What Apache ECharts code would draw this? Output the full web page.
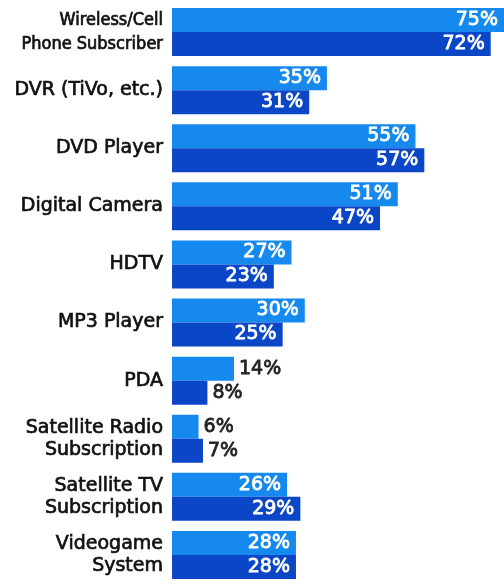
<!DOCTYPE html>
<html>
<head>
<meta charset="utf-8">
<script src="https://cdn.jsdelivr.net/npm/echarts@6/dist/echarts.min.js"></script>
<style>html,body{margin:0;padding:0;background:#fff}#c{width:504px;height:584px}</style>
</head>
<body>
<div id="c"></div>
<script>
var categories = ["Wireless/Cell\nPhone Subscriber","DVR (TiVo, etc.)","DVD Player","Digital Camera","HDTV","MP3 Player","PDA","Satellite Radio\nSubscription","Satellite TV\nSubscription","Videogame\nSystem"];
var seriesA = [75,35,55,51,27,30,14,6,26,28];
var seriesB = [72,31,57,47,23,25,8,7,29,28];

var FONT = "DejaVu Sans";
function mk(vals){
  return vals.map(function(v){
    var small = v < 15;
    var col = small ? '#222' : '#fff';
    return {value:v, label:{
      show:true,
      position: small ? 'right' : 'insideRight',
      distance: small ? 5 : 6,
      color: col, textBorderColor: col, textBorderWidth: 0.8,
      formatter:'{c}%',
      fontSize:19, fontWeight:'normal', fontFamily:FONT
    }};
  });
}
var chart = echarts.init(document.getElementById('c'));
chart.setOption({
  animation:false,
  grid:{left:172, top:3, width:334, height:586, containLabel:false},
  xAxis:{type:'value', min:0, max:75, show:false},
  yAxis:{type:'category', data:categories, inverse:true,
    axisLine:{show:false}, axisTick:{show:false},
    axisLabel:{color:'#111', fontSize:19, fontFamily:FONT, margin:9, lineHeight:22, align:'right',
      textBorderColor:'#111', textBorderWidth:0.7,
      formatter:function(v, i){
        if (i === 0) return v.split('\n').map(function(s){return '{s|'+s+'}';}).join('\n');
        return v;
      },
      rich:{s:{fontSize:18, fontFamily:'DejaVu Sans Condensed', color:'#111', lineHeight:24, textBorderColor:'#111', textBorderWidth:0.7}}
    }},
  series:[
    {type:'bar', data:mk(seriesA), barWidth:24, barGap:'0%', itemStyle:{color:'#1589ee'}},
    {type:'bar', data:mk(seriesB), barWidth:24, barGap:'0%', itemStyle:{color:'#0a46c6'}}
  ]
});
</script>
</body>
</html>
